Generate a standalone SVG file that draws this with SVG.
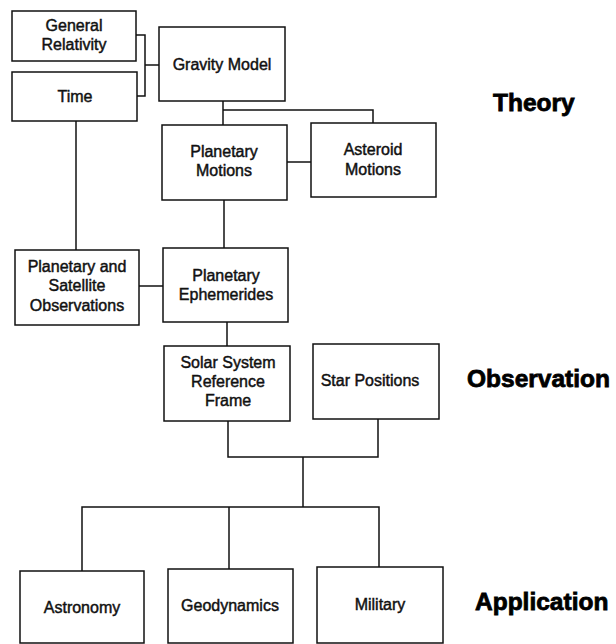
<svg xmlns="http://www.w3.org/2000/svg" width="616" height="644" viewBox="0 0 616 644">
  <style>
    .box { fill: #fff; stroke: #111; stroke-width: 1.5; }
    .lbl { font-family: "Liberation Sans", Arial, Helvetica, sans-serif; font-size: 16px; fill: #111; text-anchor: middle; stroke: #111; stroke-width: 0.45; }
    .tier { font-family: "Liberation Sans", Arial, Helvetica, sans-serif; font-size: 24.5px; font-weight: bold; fill: #000; stroke: #000; stroke-width: 0.8; }
    .wire { fill: none; stroke: #111; stroke-width: 1.5; }
  </style>
  <rect width="616" height="644" fill="#fff"/>

  <!-- connectors -->
  <g id="connectors">
    <path class="wire" d="M136,35 H145 V96 H137"/>
    <path class="wire" d="M145,65 H159"/>
    <path class="wire" d="M223,101 V125"/>
    <path class="wire" d="M223,110 H373 V123"/>
    <path class="wire" d="M287,162 H311"/>
    <path class="wire" d="M76,121 V250"/>
    <path class="wire" d="M224,200 V248"/>
    <path class="wire" d="M139,286 H163"/>
    <path class="wire" d="M227,322 V346"/>
    <path class="wire" d="M228,421 V457 H378 V419"/>
    <path class="wire" d="M303,457 V507"/>
    <path class="wire" d="M82,571 V507 H379 V567"/>
    <path class="wire" d="M229,507 V569"/>
  </g>

  <!-- nodes -->
  <g id="general-relativity">
    <rect class="box" x="12" y="11" width="124" height="50"/>
    <text class="lbl" x="74" y="31">General</text>
    <text class="lbl" x="74" y="50">Relativity</text>
  </g>
  <g id="time">
    <rect class="box" x="12" y="72" width="125" height="49"/>
    <text class="lbl" x="75" y="102">Time</text>
  </g>
  <g id="gravity-model">
    <rect class="box" x="159" y="27" width="126" height="74"/>
    <text class="lbl" x="222" y="70">Gravity Model</text>
  </g>
  <g id="planetary-motions">
    <rect class="box" x="162" y="125" width="125" height="75"/>
    <text class="lbl" x="224" y="157">Planetary</text>
    <text class="lbl" x="224" y="176">Motions</text>
  </g>
  <g id="asteroid-motions">
    <rect class="box" x="311" y="123" width="125" height="74"/>
    <text class="lbl" x="373" y="155">Asteroid</text>
    <text class="lbl" x="373" y="175">Motions</text>
  </g>
  <g id="planetary-satellite-observations">
    <rect class="box" x="15" y="250" width="124" height="75"/>
    <text class="lbl" x="77" y="272">Planetary and</text>
    <text class="lbl" x="77" y="291">Satellite</text>
    <text class="lbl" x="77" y="311">Observations</text>
  </g>
  <g id="planetary-ephemerides">
    <rect class="box" x="163" y="248" width="125" height="74"/>
    <text class="lbl" x="226" y="281">Planetary</text>
    <text class="lbl" x="226" y="300">Ephemerides</text>
  </g>
  <g id="solar-system-reference-frame">
    <rect class="box" x="164" y="346" width="126" height="75"/>
    <text class="lbl" x="228" y="368">Solar System</text>
    <text class="lbl" x="228" y="387">Reference</text>
    <text class="lbl" x="228" y="406">Frame</text>
  </g>
  <g id="star-positions">
    <rect class="box" x="313" y="344" width="126" height="75"/>
    <text class="lbl" x="370" y="386">Star Positions</text>
  </g>
  <g id="astronomy">
    <rect class="box" x="20" y="571" width="124" height="72"/>
    <text class="lbl" x="82" y="613">Astronomy</text>
  </g>
  <g id="geodynamics">
    <rect class="box" x="168" y="569" width="125" height="74"/>
    <text class="lbl" x="230" y="611">Geodynamics</text>
  </g>
  <g id="military">
    <rect class="box" x="317" y="567" width="126" height="76"/>
    <text class="lbl" x="380" y="610">Military</text>
  </g>

  <!-- tier labels -->
  <g id="tier-labels">
    <text class="tier" x="493" y="111">Theory</text>
    <text class="tier" x="467" y="387">Observation</text>
    <text class="tier" x="475" y="610">Application</text>
  </g>
</svg>
